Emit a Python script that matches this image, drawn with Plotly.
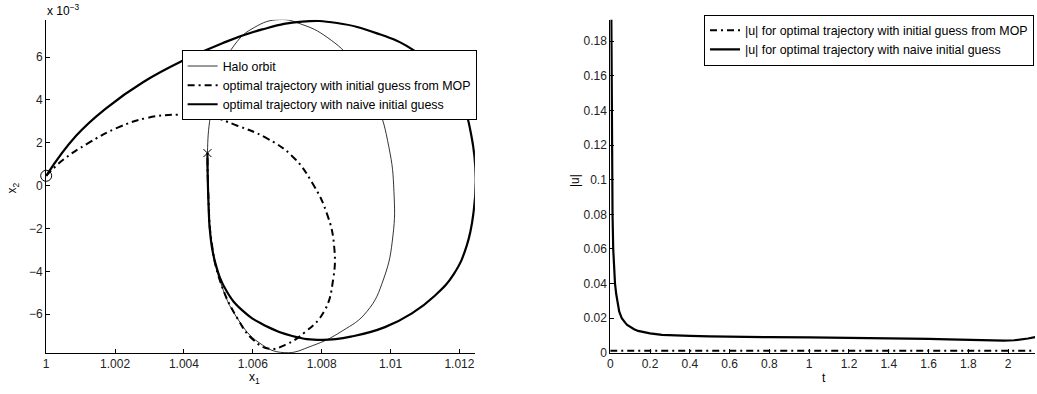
import plotly.graph_objects as go

# ---------------- Left panel data (x1 absolute, x2 in units of 1e-3) ----------------
halo_x1 = [1.004683, 1.004711, 1.004798, 1.005059, 1.005551, 1.006188, 1.006912, 1.007723,
           1.008592, 1.009316, 1.009808, 1.010069, 1.010098, 1.009953, 1.009577, 1.008939,
           1.008157, 1.007434, 1.006768, 1.006044, 1.005464, 1.005001, 1.004769, 1.004683]
halo_x2 = [1.520, -0.505, -2.569, -4.495, -6.193, -7.339, -7.798, -7.477,
           -6.789, -5.872, -4.312, -2.339, -0.275, 1.789, 3.899, 5.734,
           6.927, 7.523, 7.752, 7.385, 6.560, 5.000, 3.257, 1.520]

mop_x1 = [1.000000, 1.000484, 1.001208, 1.002076, 1.002945, 1.003872, 1.004740, 1.005551,
          1.006362, 1.007144, 1.007723, 1.008157, 1.008360, 1.008331, 1.008071, 1.007520,
          1.006941, 1.006478, 1.005986, 1.005551, 1.005059, 1.004798, 1.004711, 1.004683]
mop_x2 = [0.459, 1.193, 1.972, 2.706, 3.165, 3.317, 3.234, 2.798,
          2.248, 1.376, 0.138, -1.330, -2.798, -4.404, -5.872, -6.835,
          -7.431, -7.615, -7.156, -6.193, -4.495, -2.569, -0.505, 1.520]

naive_x1 = [1.000000, 1.000869, 1.001787, 1.002800, 1.003959, 1.005117, 1.006275, 1.007434,
            1.008447, 1.009606, 1.010619, 1.011488, 1.012067, 1.012356, 1.012472, 1.012414,
            1.012212, 1.011835, 1.011285, 1.010619, 1.009837, 1.008939, 1.008013, 1.007144,
            1.006333, 1.005696, 1.005233, 1.004914, 1.004769, 1.004711, 1.004683]
naive_x2 = [0.459, 2.326, 3.670, 4.817, 5.826, 6.651, 7.294, 7.661,
            7.592, 7.110, 6.376, 5.229, 3.853, 2.248, 0.413, -1.193,
            -2.798, -4.128, -5.138, -5.963, -6.606, -7.018, -7.202, -7.018,
            -6.514, -5.826, -4.908, -3.624, -2.339, -0.734, 1.520]

start_x1, start_x2 = [1.000000], [0.459]
target_x1, target_x2 = [1.004683], [1.520]

x1_ticks = [1, 1.002, 1.004, 1.006, 1.008, 1.01, 1.012]
x1_ticklabels = ["1", "1.002", "1.004", "1.006", "1.008", "1.01", "1.012"]
x2_ticks = [-6, -4, -2, 0, 2, 4, 6]
x2_ticklabels = ["\u22126", "\u22124", "\u22122", "0", "2", "4", "6"]

# ---------------- Right panel data ----------------
t_naive = [0.0, 0.004, 0.0085, 0.0115, 0.015, 0.02, 0.024, 0.03, 0.036, 0.045, 0.058, 0.065,
           0.075, 0.085, 0.1, 0.12, 0.14, 0.17, 0.2, 0.26, 0.33, 0.4, 0.5, 0.6, 0.8, 1.0,
           1.2, 1.4, 1.6, 1.7, 1.8, 1.9, 1.98, 2.03, 2.07, 2.1, 2.135]
u_naive = [0.3, 0.2, 0.1, 0.08, 0.06, 0.047, 0.04, 0.034, 0.029, 0.024, 0.02, 0.0188,
           0.0175, 0.0162, 0.015, 0.0137, 0.0127, 0.012, 0.0113, 0.0104, 0.0100, 0.0098,
           0.0095, 0.0093, 0.0091, 0.0090, 0.0088, 0.0085, 0.0081, 0.0078, 0.0075, 0.0072,
           0.0071, 0.0073, 0.0078, 0.0083, 0.0091]
t_mop = [0.0, 0.5, 1.0, 1.5, 2.0, 2.135]
u_mop = [0.0013, 0.0013, 0.0013, 0.0013, 0.0013, 0.0013]

t_ticks = [0, 0.2, 0.4, 0.6, 0.8, 1, 1.2, 1.4, 1.6, 1.8, 2]
t_ticklabels = ["0", "0.2", "0.4", "0.6", "0.8", "1", "1.2", "1.4", "1.6", "1.8", "2"]
u_ticks = [0, 0.02, 0.04, 0.06, 0.08, 0.1, 0.12, 0.14, 0.16, 0.18]
u_ticklabels = ["0", "0.02", "0.04", "0.06", "0.08", "0.1", "0.12", "0.14", "0.16", "0.18"]

W, H = 1037, 394
FONT = "Liberation Sans, Arial, Helvetica, sans-serif"
DASHDOT = "7px,4px,2px,4px"
TICK_FS = 12
LEG_FS = 12.4
SMOOTH = 1.3

fig = go.Figure()

# left panel
fig.add_trace(go.Scatter(x=halo_x1, y=halo_x2, mode="lines", name="Halo orbit",
                         line=dict(color="black", width=0.8, shape="spline", smoothing=SMOOTH),
                         xaxis="x", yaxis="y", legend="legend"))
fig.add_trace(go.Scatter(x=mop_x1, y=mop_x2, mode="lines",
                         name="optimal trajectory with initial guess from MOP",
                         line=dict(color="black", width=2, dash=DASHDOT, shape="spline", smoothing=SMOOTH),
                         xaxis="x", yaxis="y", legend="legend"))
fig.add_trace(go.Scatter(x=naive_x1, y=naive_x2, mode="lines",
                         name="optimal trajectory with naive initial guess",
                         line=dict(color="black", width=2.2, shape="spline", smoothing=SMOOTH),
                         xaxis="x", yaxis="y", legend="legend"))
fig.add_trace(go.Scatter(x=start_x1, y=start_x2, mode="markers", showlegend=False,
                         marker=dict(symbol="circle-open", size=11, color="black", line=dict(width=1)),
                         xaxis="x", yaxis="y", cliponaxis=False))
fig.add_trace(go.Scatter(x=target_x1, y=target_x2, mode="markers", showlegend=False,
                         marker=dict(symbol="x-thin-open", size=8, color="black", line=dict(width=1)),
                         xaxis="x", yaxis="y"))

# right panel
fig.add_trace(go.Scatter(x=t_mop, y=u_mop, mode="lines",
                         name="|u| for optimal trajectory with initial guess from MOP",
                         line=dict(color="black", width=2, dash=DASHDOT),
                         xaxis="x2", yaxis="y2", legend="legend2"))
fig.add_trace(go.Scatter(x=t_naive, y=u_naive, mode="lines",
                         name="|u| for optimal trajectory with naive initial guess",
                         line=dict(color="black", width=2.2),
                         xaxis="x2", yaxis="y2", legend="legend2"))

ax_common = dict(showline=True, linecolor="black", linewidth=1, ticks="inside", ticklen=4,
                 tickcolor="black", showgrid=False, zeroline=False, mirror=False,
                 tickfont=dict(family=FONT, size=TICK_FS, color="#222"))

ydom = [(H - 359.3) / H, (H - 20) / H]

def ann(text, px, py, angle=0, xanchor="center", size=TICK_FS):
    return dict(text=text, x=px / W, y=1 - py / H, xref="paper", yref="paper",
                xanchor=xanchor, yanchor="middle", showarrow=False, textangle=angle,
                font=dict(family=FONT, size=size, color="black"))

fig.update_layout(
    width=W, height=H,
    margin=dict(l=0, r=0, t=0, b=0),
    paper_bgcolor="white", plot_bgcolor="white",
    font=dict(family=FONT, size=TICK_FS, color="black"),
    xaxis=dict(domain=[43.3 / W, 473.3 / W], range=[1, 1.01245], anchor="y",
               tickvals=x1_ticks, ticktext=x1_ticklabels, **ax_common),
    yaxis=dict(domain=ydom, range=[-7.81, 7.75], anchor="x",
               tickvals=x2_ticks, ticktext=x2_ticklabels, **ax_common),
    xaxis2=dict(domain=[609 / W, 1035 / W], range=[0, 2.135], anchor="y2",
                tickvals=t_ticks, ticktext=t_ticklabels, **ax_common),
    yaxis2=dict(domain=ydom, range=[0, 0.1924], anchor="x2",
                tickvals=u_ticks, ticktext=u_ticklabels, **ax_common),
    legend=dict(x=475 / W, xanchor="right", y=1 - 87 / H, yanchor="middle",
                bgcolor="white", bordercolor="black", borderwidth=1,
                font=dict(family=FONT, size=LEG_FS, color="black"), tracegroupgap=0),
    legend2=dict(x=1034 / W, xanchor="right", y=1 - 41 / H, yanchor="middle",
                 bgcolor="white", bordercolor="black", borderwidth=1,
                 font=dict(family=FONT, size=LEG_FS, color="black"), tracegroupgap=0),
    annotations=[
        ann("x 10<sup>\u22123</sup>", 42, 10, xanchor="left"),
        ann("x<sub>1</sub>", 252, 385),
        ann("x<sub>2</sub>", 10, 191, angle=-90),
        ann("t", 823, 385),
        ann("|u|", 573, 184, angle=-90),
    ],
)

fig.write_html("out.html")
